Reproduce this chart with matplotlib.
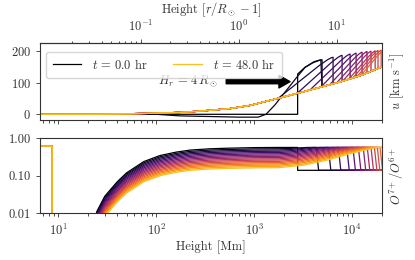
import numpy as np
import matplotlib
matplotlib.use("Agg")
import matplotlib.pyplot as plt
from matplotlib.ticker import FixedLocator, FormatStrFormatter, NullLocator, LogLocator, NullFormatter

plt.rcParams['font.family'] = 'serif'
plt.rcParams['font.serif'] = ['cmr10']
plt.rcParams['mathtext.fontset'] = 'cm'
plt.rcParams['axes.unicode_minus'] = False
plt.rcParams['axes.formatter.use_mathtext'] = True
plt.rcParams['font.size'] = 9

# ---------------- data ----------------
R_SUN = 696.0                     # Mm
H_R = 4 * R_SUN                   # Mm, initial loop height
times_hr = [0, 3, 6, 9, 12, 15, 18, 21, 24, 27, 30, 33, 36, 39, 42, 45, 48]

# relaxed wind speed profile (late-time curve)
base_h = [6, 30, 87, 176, 281, 569, 910, 1456, 2070, 2686, 4940, 7910, 12650, 20230, 30000]
base_u = [0, 0.5, 3, 6, 10, 18, 28, 44, 56, 65, 87, 104, 124, 150, 165]

# t = 0 curve (static loop below H_r)
t0_h = [6, 2784, 2784, 3300, 4000, 4600, 4940]
t0_u = [0, 0, 127, 148, 163, 170, 172]
# t = 3 hr curve (rarefaction dip then steep rise)
t1_h = [6, 100, 176, 700, 1100, 1325, 1637, 2070, 2700, 3311, 4093, 4800]
t1_u = [0, 0, -5, -9, -9, 0, 30, 70, 115, 148, 166, 172]

# velocity sawtooth: ramp start, front position, peak speed (k = 0..12)
vel_start_mm = [None, None, 1763, 2746, 3716, 4803, 5911, 6961, 8000, 9247, 10222, 11250, 12326]
vel_front_mm = [4940, 4940, 6400, 7910, 9550, 11000, 12650, 14200, 15600, 17200, 18400, 19800, 21200]
vel_peak = [172, 172, 180, 186, 190, 193, 196, 198, 199, 200, 201, 202, 203]

# charge-state ratio
ratio_shape_h = [18, 20, 25, 30, 40, 50, 75, 110, 160, 222, 350, 500, 1000, 1800]
ratio_shape_f = [0.0003, 0.003, 0.02, 0.05, 0.12, 0.21, 0.42, 0.61, 0.75, 0.85, 0.92, 0.95, 0.99, 1.0]
ratio_plateau = [0.570, 0.527, 0.488, 0.452, 0.418, 0.387, 0.358, 0.331, 0.307,
                 0.284, 0.263, 0.243, 0.225, 0.208, 0.193, 0.178, 0.165]
ratio_top_mm = [None, 3500, 4000, 4700, 5400, 6200, 7000, 7800, 8700, 9600,
                10600, 11600, 12700, 13800, 15000, 16300, 17700]
ratio_front_mm = [2784, 4300, 5730, 7240, 8830, 10200, 11600, 13000, 14300,
                  15600, 16900, 18100, 19300, 20500, 21700, 22900, 24100]
ratio_ramp_pos = [0, 0.25, 0.5, 0.75, 1.0]
ratio_ramp_frac = [0, 0.12, 0.38, 0.72, 1.0]
ratio_loop = 0.57
ratio_ambient = 0.14
ratio_base = 0.62
ratio_base_edge = 8.7

# ---------------- build curves ----------------
def base_at(h):
    return float(np.interp(np.log10(h), np.log10(base_h), base_u))

def vel_curve(k):
    if k == 0:
        hs, us = list(t0_h), list(t0_u)
    elif k == 1:
        hs, us = list(t1_h), list(t1_u)
    elif k < len(vel_start_mm):
        s, v, P = vel_start_mm[k], vel_front_mm[k], vel_peak[k]
        hs = [h for h in base_h if h < s]
        us = [u for h, u in zip(base_h, base_u) if h < s]
        b0 = base_at(s)
        for f, g in [(0, 0), (0.75, 0.8), (0.9, 0.94), (0.97, 0.99), (1.0, 1.0)]:
            hs.append(10 ** (np.log10(s) + f * (np.log10(v) - np.log10(s))))
            us.append(b0 + g * (P - b0))
    else:
        return list(base_h), list(base_u)
    v = vel_front_mm[k]
    hs.append(v); us.append(base_at(v))
    for h, u in zip(base_h, base_u):
        if h > v:
            hs.append(h); us.append(u)
    return hs, us

def ratio_curve(k):
    p = ratio_plateau[k]
    hs = [6, ratio_base_edge, ratio_base_edge]
    rs = [ratio_base, ratio_base, 1e-4]
    f = ratio_front_mm[k]
    for h, s in zip(ratio_shape_h, ratio_shape_f):
        hs.append(h); rs.append(p * s)
    if k == 0:
        hs += [f, f, 30000]
        rs += [ratio_loop, ratio_ambient, ratio_ambient]
    else:
        a = np.log10(ratio_shape_h[-1])
        g = np.log10(ratio_top_mm[k])
        for fp, fr in zip(ratio_ramp_pos[1:], ratio_ramp_frac[1:]):
            hs.append(10 ** (a + fp * (g - a)))
            rs.append(10 ** (np.log10(p) + fr * (np.log10(ratio_loop) - np.log10(p))))
        hs += [f, f * 1.06, 30000]
        rs += [ratio_loop, ratio_ambient, ratio_ambient]
    return hs, rs

colors = plt.cm.inferno(np.linspace(0, 0.85, len(times_hr)))

# ---------------- figure ----------------
fig = plt.figure(figsize=(4.15, 2.6), dpi=100)
ax1 = fig.add_axes([40/415, 1-120/260, 342/415, 77/260])
ax2 = fig.add_axes([40/415, 1-213.3/260, 342/415, 75/260])

for k, t in enumerate(times_hr):
    hs, us = vel_curve(k)
    lab = None
    if k == 0 or k == len(times_hr) - 1:
        lab = r'$t\, =\, %.1f$ hr' % t
    ax1.plot(hs, us, color=colors[k], lw=0.9, label=lab, zorder=2 + k * 0.01)
    hr, rr = ratio_curve(k)
    ax2.plot(hr, rr, color=colors[k], lw=0.9, zorder=2 + k * 0.01)

xlim = (6.55, 20200)
for ax in (ax1, ax2):
    ax.set_xscale('log')
    ax.set_xlim(*xlim)
    ax.yaxis.set_label_position('right')
    for sp in ax.spines.values():
        sp.set_color('#333333')
        sp.set_linewidth(0.8)
    ax.tick_params(colors='#333333', labelcolor='#333333', length=3, width=0.6)
    ax.tick_params(which='minor', length=1.8, width=0.5)

ax1.set_ylim(-18, 225)
ax1.yaxis.set_major_locator(FixedLocator([0, 100, 200]))
ax1.tick_params(axis='x', which='both', labelbottom=False)
ax1.set_ylabel(r'$u$ [km s$^{-1}$]', labelpad=4, color='#333333')

ax2.set_yscale('log')
ax2.set_ylim(0.01, 1.0)
ax2.yaxis.set_major_locator(FixedLocator([0.01, 0.1, 1.0]))
ax2.yaxis.set_major_formatter(FormatStrFormatter('%.2f'))
ax2.yaxis.set_minor_locator(NullLocator())
ax2.set_xlabel('Height [Mm]', color='#333333', labelpad=2)
ax2.set_ylabel(r'$O^{7+}/O^{6+}$', labelpad=4, color='#333333')

sec = ax1.secondary_xaxis('top', functions=(lambda h: h / R_SUN, lambda r: r * R_SUN))
sec.xaxis.set_major_locator(FixedLocator([0.1, 1.0, 10.0]))
sec.xaxis.set_minor_locator(LogLocator(base=10, subs=np.arange(2, 10), numticks=20))
sec.xaxis.set_minor_formatter(NullFormatter())
sec.set_xlabel(r'Height $[r/R_\odot - 1]$', color='#333333', labelpad=4)
sec.tick_params(colors='#333333', labelcolor='#333333', length=3, width=0.6)
sec.tick_params(which='minor', length=1.8, width=0.5)

leg = ax1.legend(loc='upper left', ncol=2, handlelength=2.3, handletextpad=0.9,
                 columnspacing=2.0, borderpad=0.5, fontsize=9,
                 bbox_to_anchor=(0.0, 0.97))
for txt in leg.get_texts():
    txt.set_color('#333333')

ax1.text(105, 103, r'$H_r\, =\, 4\,R_\odot$', ha='left', va='center', color='#333333', fontsize=9)
ax1.annotate('', xy=(2330, 103), xytext=(520, 103),
             arrowprops=dict(facecolor='black', edgecolor='black', width=3,
                             headwidth=9, headlength=8, shrink=0))

fig.savefig('out.png', dpi=100)
